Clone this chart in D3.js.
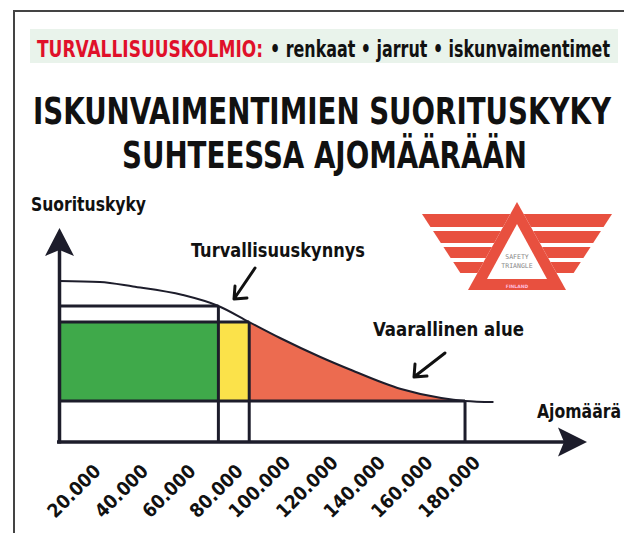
<!DOCTYPE html>
<html lang="fi">
<head>
<meta charset="utf-8">
<title>Iskunvaimentimien suorituskyky</title>
<script src="https://cdn.jsdelivr.net/npm/d3@7"></script>
<style>
  body { margin: 0; background: #fff; }
  svg { display: block; }
  .cond { font-family: "Liberation Sans Narrow", "DejaVu Sans Condensed", "Roboto", sans-serif; font-weight: bold; }
</style>
</head>
<body>
<svg width="624" height="533"></svg>
<script>
// ajomäärä (km) for the x-axis ticks
const mileageTicks = [20000, 40000, 60000, 80000, 100000, 120000, 140000, 160000, 180000];
const tickLabels = ['20.000', '40.000', '60.000', '80.000', '100.000', '120.000', '140.000', '160.000', '180.000'];

// suorituskyky curve (0..100)
const curveMileage     = [0, 17000, 31000, 52000, 67000, 80000, 93000, 110000, 123000, 144000, 161000, 171000, 183000];
const curvePerformance = [100, 99.4, 96.6, 91.3, 84.5, 74.5, 64.6, 52.8, 44.7, 32.9, 27.3, 25.5, 24.8];

// zone limits
const zoneLimits = [67000, 80000, 171000];      // vihreä | keltainen | punainen ends
const levels = [84.5, 74.5, 25.5];              // upper line, safety level, floor

const colors = { green: '#3fa94a', yellow: '#fbe24a', red: '#ec6b50', line: '#1d1d2b' };

const svg = d3.select('svg');
const font = 'cond';

// frame + header
svg.append('path')
  .attr('d', 'M14,533 V11 H624')
  .attr('fill', 'none').attr('stroke', '#444').attr('stroke-width', 2);

svg.append('rect')
  .attr('x', 30).attr('y', 29).attr('width', 588).attr('height', 34)
  .attr('fill', '#e9f3eb');

const headText = (txt, x, y, size, len, fill) => svg.append('text')
  .attr('class', font).attr('x', x).attr('y', y)
  .attr('font-size', size).attr('fill', fill || '#111')
  .attr('textLength', len).attr('lengthAdjust', 'spacingAndGlyphs')
  .text(txt);

headText('TURVALLISUUSKOLMIO:', 37, 56.5, 23, 226, '#e0102a');
headText('• renkaat • jarrut • iskunvaimentimet', 270, 56.5, 23, 340);
headText('ISKUNVAIMENTIMIEN SUORITUSKYKY', 33, 124, 37, 578);
headText('SUHTEESSA AJOMÄÄRÄÄN', 122, 168, 37, 405);

headText('Suorituskyky', 31, 211, 19, 115);
headText('Turvallisuuskynnys', 191, 257, 20, 174);
headText('Vaarallinen alue', 373, 336, 19.5, 151);
headText('Ajomäärä', 537, 418, 20, 84);

// scales
const xScale = d3.scaleLinear().domain([0, 200000]).range([59.5, 533.8]);
const yScale = d3.scaleLinear().domain([0, 100]).range([442, 281]);

const data = curveMileage.map((m, i) => ({ m: m, p: curvePerformance[i] }));

const g = svg.append('g');

// zones
g.append('rect')
  .attr('x', xScale(0)).attr('y', yScale(levels[1]))
  .attr('width', xScale(zoneLimits[0]) - xScale(0))
  .attr('height', yScale(levels[2]) - yScale(levels[1]))
  .attr('fill', colors.green);

g.append('rect')
  .attr('x', xScale(zoneLimits[0])).attr('y', yScale(levels[1]))
  .attr('width', xScale(zoneLimits[1]) - xScale(zoneLimits[0]))
  .attr('height', yScale(levels[2]) - yScale(levels[1]))
  .attr('fill', colors.yellow);

svg.append('clipPath').attr('id', 'dangerClip')
  .append('rect')
  .attr('x', xScale(zoneLimits[1])).attr('y', 0)
  .attr('width', xScale(zoneLimits[2]) - xScale(zoneLimits[1])).attr('height', 533);

const area = d3.area()
  .x(d => xScale(d.m))
  .y0(yScale(levels[2]))
  .y1(d => yScale(d.p))
  .curve(d3.curveMonotoneX);

g.append('path')
  .datum(data)
  .attr('clip-path', 'url(#dangerClip)')
  .attr('d', area)
  .attr('fill', colors.red);

// grid lines
const hLines = [
  { y: levels[0], x1: 0, x2: zoneLimits[0] },
  { y: levels[1], x1: 0, x2: zoneLimits[1] },
  { y: levels[2], x1: 0, x2: zoneLimits[2] }
];
g.selectAll('.hline').data(hLines).enter().append('line')
  .attr('x1', d => xScale(d.x1)).attr('x2', d => xScale(d.x2))
  .attr('y1', d => yScale(d.y)).attr('y2', d => yScale(d.y))
  .attr('stroke', colors.line).attr('stroke-width', 3);

g.selectAll('.vline').data(zoneLimits).enter().append('line')
  .attr('x1', d => xScale(d)).attr('x2', d => xScale(d))
  .attr('y1', (d, i) => yScale(levels[i])).attr('y2', yScale(0))
  .attr('stroke', colors.line).attr('stroke-width', 3);

// curve
const line = d3.line()
  .x(d => xScale(d.m))
  .y(d => yScale(d.p))
  .curve(d3.curveMonotoneX);

g.append('path')
  .datum(data)
  .attr('d', line)
  .attr('fill', 'none')
  .attr('stroke', colors.line)
  .attr('stroke-width', 2);

// axes with arrows
const x0 = xScale(0), y0 = yScale(0);
g.append('line')
  .attr('x1', x0).attr('x2', x0).attr('y1', y0 + 1.5).attr('y2', 245)
  .attr('stroke', colors.line).attr('stroke-width', 3.5);
g.append('path')
  .attr('d', `M${x0},228 L${x0 + 14.5},256 L${x0},250 L${x0 - 14.5},256 Z`)
  .attr('fill', colors.line);

g.append('line')
  .attr('x1', 57).attr('x2', 570).attr('y1', y0).attr('y2', y0)
  .attr('stroke', colors.line).attr('stroke-width', 3.5);
g.append('path')
  .attr('d', `M587,${y0} L558,${y0 - 14.5} L564,${y0} L558,${y0 + 14.5} Z`)
  .attr('fill', colors.line);

// tick labels, slanted; bottoms sit on one line, ends just left of the tick
const labels = g.selectAll('.tick-label').data(mileageTicks).enter().append('text')
  .attr('class', font)
  .attr('font-size', 19)
  .attr('fill', '#111')
  .attr('text-anchor', 'end')
  .text((d, i) => tickLabels[i]);

labels.attr('transform', function (d) {
  const L = this.getComputedTextLength();
  return `translate(${xScale(d) - 5},${519 - L * 0.7071}) rotate(-45)`;
});

// pointer arrows
const pointer = (x1, y1, x2, y2) => {
  svg.append('path')
    .attr('d', `M${x1},${y1} L${x2},${y2} M${x2 + 1},${y2 - 13} L${x2},${y2} L${x2 + 13},${y2 - 1}`)
    .attr('fill', 'none').attr('stroke', '#111')
    .attr('stroke-width', 3).attr('stroke-linecap', 'round').attr('stroke-linejoin', 'round');
};
pointer(255, 268, 234, 299);
pointer(445, 353, 414, 377);

// safety triangle logo
const logo = svg.append('g');
const cx = 517;
const red = '#e8503f';
const stripes = [[214, 227], [231, 243], [247, 258], [262, 273]];
stripes.forEach(s => {
  const outerTop = 95 - (s[0] - 214) * 0.65;
  const outerBot = 95 - (s[1] - 214) * 0.65;
  const innerTop = (s[0] - 202) * (49 / 88);
  const innerBot = (s[1] - 202) * (49 / 88);
  [-1, 1].forEach(side => {
    logo.append('path')
      .attr('d', `M${cx + side * outerTop},${s[0]} L${cx + side * innerTop},${s[0]} L${cx + side * innerBot},${s[1]} L${cx + side * outerBot},${s[1]} Z`)
      .attr('fill', red);
  });
});
logo.append('path')
  .attr('d', `M${cx},202 L${cx + 49},290 L${cx - 49},290 Z`)
  .attr('fill', red);
logo.append('path')
  .attr('d', `M${cx},224 L${cx + 30},279 L${cx - 30},279 Z`)
  .attr('fill', '#fff');
logo.append('text')
  .attr('x', cx).attr('y', 259).attr('text-anchor', 'middle')
  .attr('font-family', '"DejaVu Sans Mono", monospace').attr('font-size', 6.5)
  .attr('fill', '#888').text('SAFETY');
logo.append('text')
  .attr('x', cx).attr('y', 268).attr('text-anchor', 'middle')
  .attr('font-family', '"DejaVu Sans Mono", monospace').attr('font-size', 6.5)
  .attr('fill', '#888').text('TRIANGLE');
logo.append('text')
  .attr('x', cx).attr('y', 287.5).attr('text-anchor', 'middle')
  .attr('font-family', '"DejaVu Sans", sans-serif').attr('font-size', 4.5)
  .attr('font-weight', 'bold').attr('fill', '#fbd').text('FINLAND');
</script>
</body>
</html>
